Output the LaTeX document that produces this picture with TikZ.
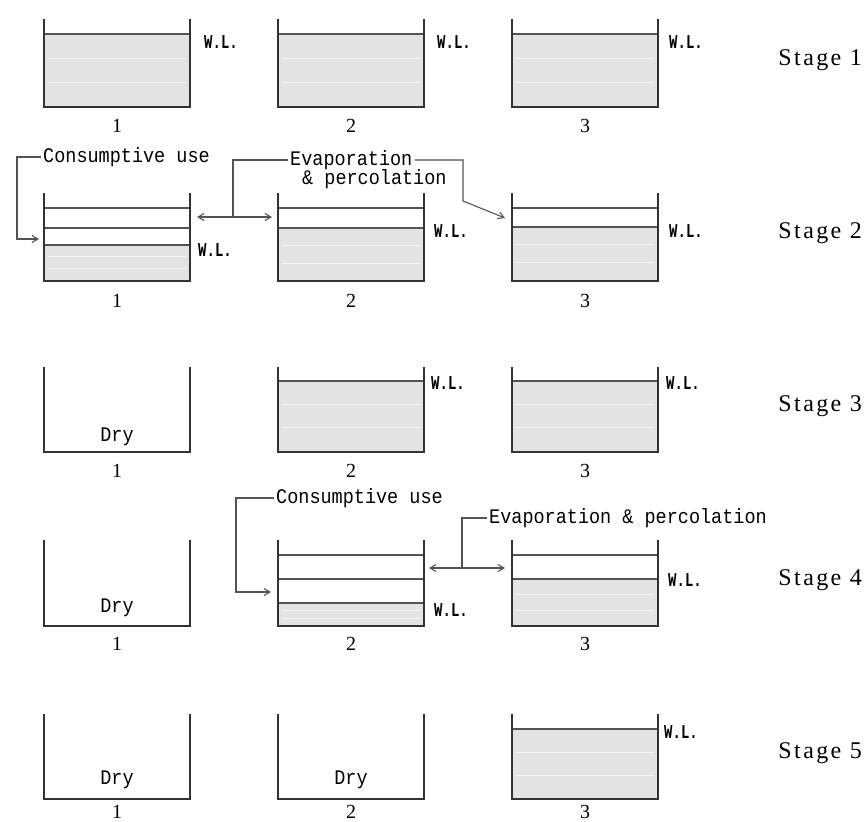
\documentclass[tikz,border=0pt]{standalone}
\usepackage{fontspec}
\usepackage{graphicx}
\usetikzlibrary{arrows.meta}
\newfontfamily\monof{Liberation Mono}
\newfontfamily\stagef[LetterSpace=10]{Liberation Serif}
\newfontfamily\numf{Liberation Serif}
\newcommand{\mtxt}[1]{\scalebox{1}[1.12]{\monof\fontsize{18.5}{20}\selectfont #1}}
\newcommand{\wltxt}{\scalebox{1}[1.4]{\monof\bfseries\fontsize{14}{15}\selectfont W.L.}}
\definecolor{water}{gray}{0.89}
\definecolor{wallc}{gray}{0.2}
\definecolor{linec}{gray}{0.33}
\tikzset{
  wall/.style={draw=wallc, line width=1.7pt},
  wline/.style={draw=linec, line width=1.3pt},
  tex/.style={draw=white!60!water, line width=0.8pt},
  conn/.style={draw=linec, line width=1.1pt},
  arrowline/.style={conn, -{Straight Barb[length=6pt,width=7pt]}},
  dblarrow/.style={conn, {Straight Barb[length=6pt,width=7pt]}-{Straight Barb[length=6pt,width=7pt]}},
  lbl/.style={inner sep=0pt, font=\numf\fontsize{20}{21}\selectfont},
  stagelbl/.style={inner sep=0pt, anchor=east, font=\stagef\fontsize{24}{26}\selectfont},
  wl/.style={inner sep=0pt, anchor=west},
  mt/.style={inner sep=2pt},
}
% #1 left x, #2 top y, #3 bottom y
\newcommand{\tankwalls}[3]{\draw[wall] (#1,#2) |- (#1+146,#3) -- (#1+146,#2);}
% #1 left x, #2 water level y, #3 bottom y
\newcommand{\water}[3]{%
  \fill[water] (#1,#2) rectangle (#1+146,#3);
  \draw[tex] (#1+4,{#2+(#3-#2)*0.33}) -- (#1+142,{#2+(#3-#2)*0.33});
  \draw[tex] (#1+4,{#2+(#3-#2)*0.66}) -- (#1+142,{#2+(#3-#2)*0.66});
  \draw[wline] (#1,#2) -- (#1+146,#2);}
\newcommand{\tankline}[2]{\draw[wline] (#1,#2) -- (#1+146,#2);}
\begin{document}
\begin{tikzpicture}[x=1pt,y=-1pt]
\useasboundingbox (0,0) rectangle (865,822);
\fill[white] (0,0) rectangle (865,822);

% ---------- Stage 1 ----------
\water{44}{34}{107}\tankwalls{44}{19}{107}
\water{278}{34}{107}\tankwalls{278}{19}{107}
\water{512}{34}{107}\tankwalls{512}{19}{107}
\node[wl] (wl11) at (204,42) {\wltxt};
\node[wl] (wl12) at (437,42) {\wltxt};
\node[wl] (wl13) at (669,42) {\wltxt};
\node[lbl] (n11) at (117,126) {1};
\node[lbl] (n12) at (351,126) {2};
\node[lbl] (n13) at (585,126) {3};
\node[stagelbl] (s1) at (862,60) {Stage 1};

% ---------- Stage 2 ----------
\water{44}{245}{281}\tankline{44}{208}\tankline{44}{228}\tankwalls{44}{193}{281}
\water{278}{228}{281}\tankline{278}{208}\tankwalls{278}{193}{281}
\water{512}{227}{281}\tankline{512}{208}\tankwalls{512}{193}{281}
\node[wl] (wl21) at (198,250) {\wltxt};
\node[wl] (wl22) at (434,231) {\wltxt};
\node[wl] (wl23) at (669,231) {\wltxt};
\node[lbl] (n21) at (117,301) {1};
\node[lbl] (n22) at (351,301) {2};
\node[lbl] (n23) at (585,301) {3};
\node[stagelbl] (s2) at (862,233) {Stage 2};

\node[mt, anchor=west] (cu2) at (41,157) {\mtxt{Consumptive use}};
\node[mt, anchor=west] (ev2) at (288,160) {\mtxt{Evaporation}};
\node[mt, anchor=west] (pc2) at (300,179) {\mtxt{\& percolation}};
\coordinate (cu2c) at (17,157);
\coordinate (cu2e) at (39,239);
\draw[arrowline] (cu2.west) -- (cu2c) |- (cu2e);
\coordinate (da2l) at (197,217);
\coordinate (da2r) at (272,217);
\coordinate (da2m) at (233,217);
\draw[dblarrow] (da2l) -- (da2r);
\draw[conn] (da2m) |- (ev2.west);
\coordinate (ev2c1) at (463,160);
\coordinate (ev2c2) at (463,201);
\coordinate (ev2e) at (505,218);
\draw[arrowline] (ev2.east) -- (ev2c1) -- (ev2c2) -- (ev2e);

% ---------- Stage 3 ----------
\tankwalls{44}{367}{452}
\node[inner sep=0pt] (dry31) at (117,437) {\mtxt{Dry}};
\water{278}{381}{452}\tankwalls{278}{367}{452}
\water{512}{381}{452}\tankwalls{512}{367}{452}
\node[wl] (wl32) at (431,383) {\wltxt};
\node[wl] (wl33) at (666,383) {\wltxt};
\node[lbl] (n31) at (117,471) {1};
\node[lbl] (n32) at (351,471) {2};
\node[lbl] (n33) at (585,471) {3};
\node[stagelbl] (s3) at (862,406) {Stage 3};

% ---------- Stage 4 ----------
\tankwalls{44}{540}{626}
\node[inner sep=0pt] (dry41) at (117,608) {\mtxt{Dry}};
\water{278}{603}{626}\tankline{278}{555}\tankline{278}{579}\tankwalls{278}{540}{626}
\water{512}{579}{626}\tankline{512}{555}\tankwalls{512}{540}{626}
\node[wl] (wl42) at (434,610) {\wltxt};
\node[wl] (wl43) at (668,580) {\wltxt};
\node[lbl] (n41) at (117,644) {1};
\node[lbl] (n42) at (351,644) {2};
\node[lbl] (n43) at (585,644) {3};
\node[stagelbl] (s4) at (862,580) {Stage 4};

\node[mt, anchor=west] (cu4) at (274,498) {\mtxt{Consumptive use}};
\node[mt, anchor=west] (ev4) at (487,518) {\mtxt{Evaporation \& percolation}};
\coordinate (cu4c) at (236,498);
\coordinate (cu4e) at (271,592);
\draw[arrowline] (cu4.west) -- (cu4c) |- (cu4e);
\coordinate (da4l) at (429,568);
\coordinate (da4r) at (505,568);
\coordinate (da4m) at (462,568);
\draw[dblarrow] (da4l) -- (da4r);
\draw[conn] (da4m) |- (ev4.west);

% ---------- Stage 5 ----------
\tankwalls{44}{714}{799}
\node[inner sep=0pt] (dry51) at (117,780) {\mtxt{Dry}};
\tankwalls{278}{714}{799}
\node[inner sep=0pt] (dry52) at (351,780) {\mtxt{Dry}};
\water{512}{729}{799}\tankwalls{512}{714}{799}
\node[wl] (wl53) at (664,732) {\wltxt};
\node[lbl] (n51) at (117,812) {1};
\node[lbl] (n52) at (351,812) {2};
\node[lbl] (n53) at (585,812) {3};
\node[stagelbl] (s5) at (862,753) {Stage 5};
\end{tikzpicture}
\end{document}
